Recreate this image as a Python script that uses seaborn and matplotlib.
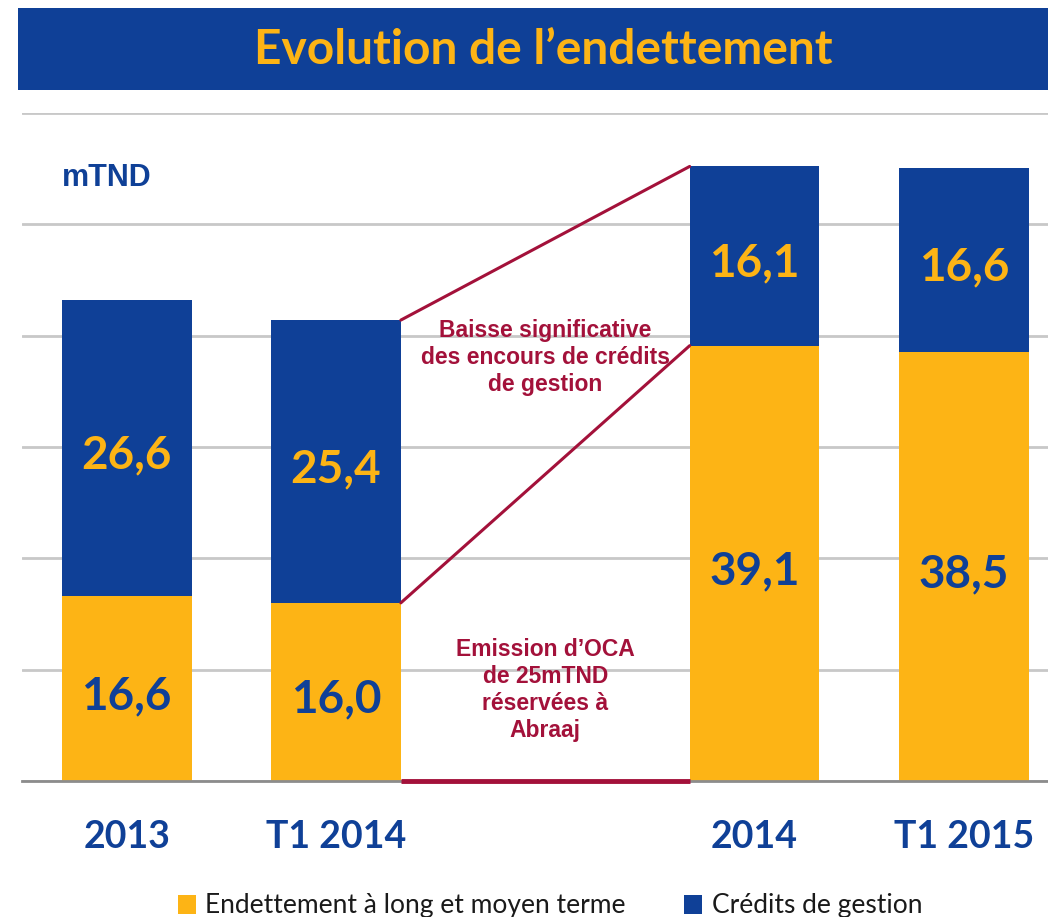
import matplotlib
matplotlib.use("Agg")
import matplotlib.pyplot as plt
import matplotlib.transforms as mtransforms
import pandas as pd
import seaborn as sns
from matplotlib.patches import Patch, Rectangle

BLUE = "#0F4097"
ORANGE = "#FDB415"
RED = "#A3113A"
GRID = "#C8C8C8"
AXIS = "#8C8C8C"

NARROW = ["Liberation Sans Narrow", "Lato", "DejaVu Sans"]
ARIAL = ["Liberation Sans", "DejaVu Sans"]

periods = ["2013", "T1 2014", "2014", "T1 2015"]
slots = ["2013", "T1 2014", " ", "2014", "T1 2015"]
long_term = [16.6, 16.0, 39.1, 38.5]
credits = [26.6, 25.4, 16.1, 16.6]
series_names = ["Endettement à long et moyen terme", "Crédits de gestion"]
note_top = "Baisse significative\ndes encours de crédits\nde gestion"
note_bottom = "Emission d’OCA\nde 25mTND\nréservées à\nAbraaj"

df = pd.DataFrame({"period": periods, "long_term": long_term, "credits": credits})
df["total"] = df["long_term"] + df["credits"]

sns.set_theme(style="white")
fig = plt.figure(figsize=(10.48, 9.17), dpi=100)
ax = fig.add_axes([22 / 1048, 136 / 917, 1046.5 / 1048, 668 / 917])

bar_w = 0.62
sns.barplot(data=df, x="period", y="total", order=slots, color=BLUE,
            saturation=1, width=bar_w, linewidth=0, ax=ax)
sns.barplot(data=df, x="period", y="long_term", order=slots, color=ORANGE,
            saturation=1, width=bar_w, linewidth=0, ax=ax)

ax.set_ylim(0, 60)
ax.set_xlim(-0.5, 4.5)
ax.set_yticks(range(0, 61, 10))
ax.yaxis.grid(True, color=GRID, linewidth=2)
ax.set_axisbelow(True)
ax.tick_params(axis="y", left=False, labelleft=False)
for side in ["left", "right", "top"]:
    ax.spines[side].set_visible(False)
ax.spines["bottom"].set_color(AXIS)
ax.spines["bottom"].set_linewidth(2)
ax.set_xlabel("")
ax.set_ylabel("")

ax.set_xticks(range(len(slots)))
ax.set_xticklabels(slots, fontsize=27, fontweight="bold", color=BLUE, family=NARROW)
ax.tick_params(axis="x", which="major", length=0, pad=28)
ax.set_xticks([i - 0.5 for i in range(len(slots) + 1)], minor=True)
ax.tick_params(axis="x", which="minor", length=15, width=1.5, color=AXIS, direction="out")

# value labels inside each segment (sit a little below the segment middle)
lbl_tr = mtransforms.offset_copy(ax.transData, fig=fig, x=0, y=-5.5, units="points")
xpos = [slots.index(p) for p in periods]
for x, lt, cr in zip(xpos, long_term, credits):
    ax.text(x, lt / 2, f"{lt:.1f}".replace(".", ","), ha="center", va="center",
            fontsize=33, fontweight="bold", color=BLUE, family=NARROW, transform=lbl_tr)
    ax.text(x, lt + cr / 2, f"{cr:.1f}".replace(".", ","), ha="center", va="center",
            fontsize=33, fontweight="bold", color=ORANGE, family=NARROW, transform=lbl_tr)

# bridge lines between T1 2014 and 2014
i0, i1 = periods.index("T1 2014"), periods.index("2014")
xa = xpos[i0] + bar_w / 2
xb = xpos[i1] - bar_w / 2
ax.plot([xa, xb], [df["total"][i0], df["total"][i1]], color=RED, lw=2.2, clip_on=False)
ax.plot([xa, xb], [long_term[i0], long_term[i1]], color=RED, lw=2.2, clip_on=False)
ax.plot([xa, xb], [0, 0], color=RED, lw=3.5, clip_on=False, solid_capstyle="butt", zorder=5)

xm = (xpos[i0] + xpos[i1]) / 2
ax.text(xm, 38.0, note_top, ha="center", va="center", fontsize=16.5,
        fontweight="bold", color=RED, family=ARIAL, linespacing=1.22)
ax.text(xm, 8.2, note_bottom, ha="center", va="center", fontsize=16.5,
        fontweight="bold", color=RED, family=ARIAL, linespacing=1.22)

fig.text(62 / 1048, 1 - 178 / 917, "mTND", ha="left", va="center", fontsize=22,
         fontweight="bold", color=BLUE, family=ARIAL)

# title banner
fig.patches.append(Rectangle((18 / 1048, 1 - 90 / 917), 1 - 18 / 1048, 82 / 917,
                             transform=fig.transFigure, facecolor=BLUE, edgecolor="none"))
fig.text(543 / 1048, 1 - 50 / 917, "Evolution de l’endettement", ha="center", va="center",
         fontsize=34.5, fontweight="bold", color=ORANGE, family=NARROW)

handles = [Patch(facecolor=ORANGE, edgecolor="none"), Patch(facecolor=BLUE, edgecolor="none")]
fig.legend(handles, series_names, loc="center", bbox_to_anchor=(550 / 1048, 1 - 906 / 917),
           ncol=2, frameon=False, handlelength=0.7, handleheight=0.7, handletextpad=0.35,
           columnspacing=2.2, prop={"family": NARROW, "size": 19}, labelcolor="#1a1a1a",
           borderpad=0)

fig.savefig("out.png", dpi=100)
